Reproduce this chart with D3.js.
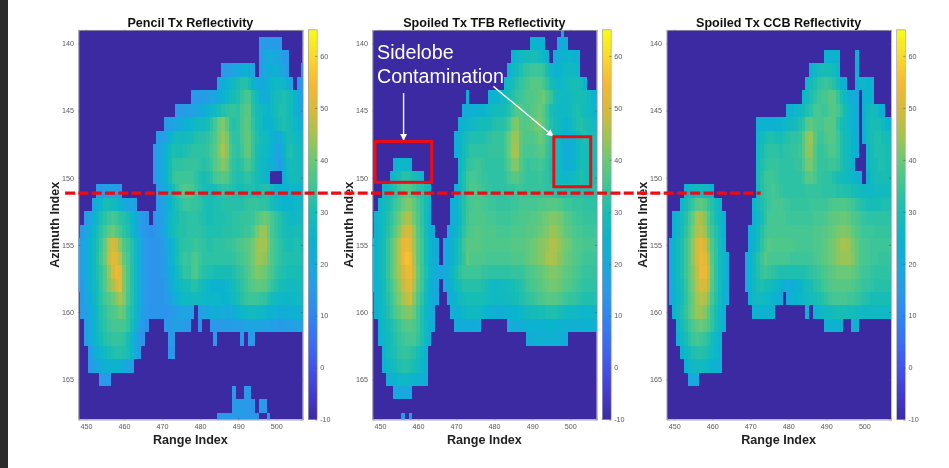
<!DOCTYPE html>
<html>
<head>
<meta charset="utf-8">
<script src="https://cdn.jsdelivr.net/npm/d3@7"></script>
<style>
  html, body { margin: 0; padding: 0; background: #fff; overflow: hidden; }
  svg { display: block; filter: blur(0.3px); }
  text { font-family: "Liberation Sans", Arial, sans-serif; }
  .heat { filter: blur(0.7px); }
</style>
</head>
<body>
<div id="chart"></div>
<script>
// each row: [azimuth index, first range index, reflectivity values...]
// anything not listed is the -10 floor colour
const pencilRows = [
  [140,496,15,16,16,16,16,15],
  [141,496,16,20,21,21,20,19,16,15],
  [142,486,15,16,17,18,20,22,24,22,18],
  [142,496,17,21,22,22,23,22,18,16],
  [142,507,15],
  [143,485,20,22,24,26,28,30,32,32,30,25,21,20,22,25,26,27,27,26,22,18],
  [143,506,14,15],
  [144,478,15,15,16,16,17,18,20,22,24,26,29,30,31,34,36,36,31,27,23,22,22,27,29,30,31,30,28,25,20,15],
  [145,474,15,15,16,17,18,18,20,22,24,26,28,30,32,33,34,34,33,36,38,38,32,29,28,26,25,27,29,31,31,30,28,24,20,18],
  [146,471,16,17,18,20,22,24,25,26,27,28,28,30,33,36,40,42,38,33,32,33,36,39,38,33,30,28,25,24,25,27,30,31,30,28,26,24,22],
  [147,469,16,17,18,24,27,29,28,28,29,30,31,32,32,33,35,37,41,44,41,35,33,33,36,39,39,34,31,29,28,27,25,22,21,26,30,29,28,26,27],
  [148,468,16,17,19,24,28,31,30,30,31,32,33,33,33,33,34,36,38,42,46,42,36,34,33,35,39,39,34,30,28,27,26,24,20,18,24,30,31,29,28,28],
  [149,468,16,17,20,25,29,33,33,33,34,34,34,34,33,32,33,35,38,40,43,40,35,33,32,33,36,36,33,29,27,26,25,23,19,16,22,28,30,29,28,28],
  [150,468,16,17,20,25,30,34,35,35,35,35,35,33,31,30,31,33,36,37,38,37,34,32,31,31,33,33,31,29,27,26,24],
  [150,502,22,27,29,29,28,28],
  [151,453,15,16,17,17,17,16,15],
  [151,469,16,18,22,26,30,33,36,38,37,36,34,32,30,29,29,30,32,33,33,32,31,30,30,31,31,31,30,31,32,31,28,25,24,24,25,26,26,26,26],
  [152,452,18,24,26,30,30,28,27,25,20,20,18,17],
  [152,469,15,17,20,25,29,31,33,35,35,34,34,33,31,30,30,31,31,32,32,32,32,32,32,33,34,34,34,33,33,32,30,28,26,25,25,25,26,27,26],
  [153,450,15,18,24,27,31,33,35,36,35,33,32,30,26,22,18,15,14],
  [153,468,14,15,17,21,26,29,30,32,32,33,33,33,32,31,30,30,31,31,31,32,32,33,33,34,34,34,35,37,39,40,39,36,34,32,30,28,27,27,28,29],
  [154,449,15,18,22,26,30,33,36,39,40,38,36,33,31,27,22,18,15,14,13,14,15,17,22,27,29,31,32,32,33,33,33,33,32,31,31,31,31,32,32,32,33,33,34,35,35,37,41,44,44,40,36,34,32,30,29,29,30,30,29],
  [155,448,15,17,20,24,28,31,35,40,47,50,48,43,37,35,32,27,21,17,15,14,14,14,15,18,22,26,30,32,33,33,34,35,34,33,32,32,33,33,33,34,34,35,36,37,38,39,41,44,45,45,41,37,35,33,31,30,30,31,31,30],
  [156,448,15,17,20,24,28,32,36,41,48,52,52,47,39,36,32,27,21,17,15,14,14,14,15,17,21,26,30,33,35,34,36,37,35,33,33,33,33,33,33,33,33,34,35,36,37,39,41,44,44,43,40,37,35,33,32,31,31,31,31,31],
  [157,448,15,17,20,24,28,31,34,38,44,50,54,52,42,37,32,27,21,17,15,14,14,14,15,17,20,25,28,31,34,33,36,37,34,32,31,31,30,30,30,30,30,31,33,34,36,38,40,42,41,40,38,36,34,32,31,30,30,30,30,30],
  [158,448,15,16,19,23,27,30,34,38,43,46,49,52,42,37,32,27,21,17,15,14,14,14,14,16,19,23,26,28,30,30,32,32,30,28,26,25,24,24,24,26,28,29,31,33,35,37,38,39,39,38,36,34,32,30,29,28,28,28,29,30],
  [159,449,16,18,22,26,30,33,36,38,40,43,45,42,36,32,27,21,17,15,14,14,14,14,15,17,21,24,26,27,27,28,28,28,27,26,26,26,26,25,25,26,28,30,32,34,35,35,35,34,33,31,29,28,27,26,26,26,27,28,28],
  [160,449,15,17,20,24,28,32,34,36,37,38,40,39,34,31,26,20,16,15,14,14,14,14,14,15,16,17,18,18,18,18],
  [160,480,17,18,20,21,22,22,21,20,21,22,24,26,27,28,28,27,27,26,25,24,23,22,22,22,23,24,24,24],
  [161,450,16,20,24,28,31,33,35,36,36,36,36,34,30,24,18,15,13],
  [161,471,15,16,17,17,17,16,15],
  [161,480,14],
  [161,483,15,15,15,16,16,16,17,17,17,18,19,19,19,18,18,18,17,17,16,16,17,17,18,18,18],
  [162,450,16,20,24,27,30,32,33,34,34,34,33,30,26,20,15,14],
  [162,472,15,15],
  [162,484,15],
  [162,491,15],
  [162,493,15,15],
  [163,451,16,20,24,26,28,30,31,32,32,31,30,26,21,16],
  [163,472,14,14],
  [164,451,15,17,20,22,23,24,25,25,24,22,19,17],
  [165,454,15,15,15],
  [166,489,15],
  [166,492,15,15],
  [167,489,15,16,16,15,15,14],
  [167,496,15,15],
  [168,485,15,15,15,15,15,16,16,15,15,15,14],
  [168,498,15]
];

const tfbRows = [
  [139,498,20],
  [140,490,24,25,25,24],
  [140,497,20,22,22],
  [141,485,25,26,28,29,29,30,30,28,26,25],
  [141,496,22,24,24,25,26,24,24],
  [142,484,25,27,29,31,33,34,35,35,35,34,30,26,24,25,26,27,27,27,26],
  [143,483,26,28,30,32,34,35,36,38,38,38,36,33,29,27,26,27,28,29,30,30,28,25],
  [144,473,22],
  [144,479,24,24,25,27,28,30,32,34,35,36,37,37,38,39,40,37,34,30,28,27,27,28,29,30,30,29,27,25,24],
  [145,472,22,22,23,23,24,25,26,27,28,29,29,30,32,35,38,38,36,36,38,39,40,38,34,30,28,27,27,27,28,30,31,30,28,27,26,26],
  [146,471,23,25,26,27,28,29,29,29,30,31,32,32,33,36,41,42,38,37,38,39,40,41,39,35,31,29,27,26,25,26,29,31,32,30,29,28,28],
  [147,470,22,25,28,30,31,31,31,31,32,33,34,34,34,36,40,44,44,39,37,37,37,38,40,39,35,31,29,27,25,23,23,25,28,30,31,30,30,30],
  [148,470,22,25,29,31,33,33,33,33,33,34,34,34,34,36,40,45,45,38,36,36,36,37,38,38,34,31,28,27,25,22,22,24,27,30,30,30,30,30],
  [149,454,24,26,26,26,25],
  [149,471,26,30,33,34,35,35,34,33,33,33,33,33,35,38,42,42,37,35,34,35,35,36,35,33,30,29,27,25,22,23,25,28,30,30,30,30,30],
  [150,453,26,28,30,32,32,31,30,28,26],
  [150,471,27,31,35,36,36,35,34,34,33,33,33,33,34,36,38,38,36,35,34,34,34,35,34,33,31,30,28,26,26,27,28,30,31,30,30,31,31],
  [151,451,26,28,30,32,35,37,38,37,35,33,32,30,27],
  [151,470,22,26,31,35,37,37,36,35,34,34,33,33,33,33,34,34,35,35,34,34,34,34,34,34,33,33,32,31,31,31,31,31,31,31,31,31,32,32],
  [152,450,26,28,30,32,35,37,40,42,42,39,36,33,30,26],
  [152,469,22,24,28,32,35,36,37,37,36,36,35,35,34,34,34,34,35,35,36,36,36,36,36,37,37,38,38,38,37,36,35,35,34,34,34,33,33,33,33],
  [153,449,24,27,29,31,34,37,40,44,46,46,41,37,33,29,24],
  [153,469,21,23,27,32,35,37,37,37,37,36,36,36,35,35,35,35,36,36,37,37,37,38,38,39,40,41,42,42,41,40,38,37,36,35,35,34,34,34,34],
  [154,449,24,26,29,32,35,39,43,48,50,50,44,38,34,30,25,22],
  [154,468,20,22,25,29,33,36,37,38,38,37,37,37,37,36,36,36,36,37,37,37,37,38,38,39,40,41,42,44,44,42,41,39,38,37,36,36,35,35,35,36],
  [155,448,23,25,27,30,34,38,42,47,52,53,52,45,39,35,30,26,23,20],
  [155,467,20,22,24,27,31,35,38,38,38,38,37,37,37,37,37,37,37,37,38,38,38,38,39,40,41,42,43,44,46,46,44,42,41,40,38,37,37,36,36,36,36],
  [156,448,23,25,27,30,34,38,42,47,53,56,55,46,39,35,30,26,23,20],
  [156,467,20,22,24,27,31,34,39,37,37,37,37,36,36,36,36,36,36,36,37,37,37,38,39,40,41,42,43,45,46,45,43,42,40,39,38,37,36,35,35,35,35],
  [157,448,23,25,27,30,34,38,42,46,50,53,54,48,40,35,31,26,23,20,20,21,23,26,30,33,35,35,35,35,35,34,34,33,33,33,33,33,33,34,34,34,35,36,37,38,39,40,41,42,42,41,40,39,38,37,36,35,34,34,34,34],
  [158,448,22,24,26,29,33,36,40,44,48,51,52,46,39,35,30,25,22,20],
  [158,467,20,22,25,28,30,32,32,32,32,32,31,30,28,27,27,28,28,29,30,31,32,33,35,36,37,38,39,40,41,41,40,39,38,37,36,35,34,33,33,33,33],
  [159,449,24,26,29,32,35,39,42,45,48,50,43,37,33,28,24,21,20],
  [159,468,21,23,25,28,29,30,30,30,30,30,29,28,27,27,27,28,28,29,30,31,32,33,34,35,36,37,38,38,38,37,36,35,34,34,33,32,31,31,31,32],
  [160,449,24,26,28,31,34,37,39,41,42,43,40,35,31,26,23,20],
  [160,469,21,23,25,26,27,27,27,27,26,25,24,23,22,22,23,24,25,25,26,27,28,29,29,30,30,31,31,31,30,29,28,27,27,27,26,26,26,26,26],
  [161,450,24,27,29,31,33,35,37,38,38,37,35,31,27,24,21],
  [161,470,22,22,22,22,22,22,21],
  [161,484,21,22,22,23,23,24,24,24,24,24,25,25,25,24,24,24,23,23,23,23,24,24,24,24],
  [162,450,24,26,28,30,32,34,35,36,36,36,34,31,27,24],
  [162,489,22,22,23,23,23,23,23,23,23,22,22],
  [163,451,25,28,30,31,33,34,34,33,32,30,27,25],
  [164,451,24,26,28,29,31,32,32,31,30,28,26,24],
  [165,452,22,24,25,26,27,27,26,25,24,23,22],
  [166,454,20,20,20,20,20],
  [168,456,17],
  [168,458,17]
];

const ccbRows = [
  [141,490,24,25,25,24],
  [141,498,24],
  [142,486,25,27,29,30,30,30,28,26],
  [142,498,24],
  [143,485,27,29,31,33,34,35,34,32,28,25,22],
  [143,498,24,26,26,25,24],
  [144,484,26,28,31,33,35,36,36,38,38,34,30,26,23,21,20],
  [144,500,24,25,24],
  [145,480,23,24,26,27,29,31,33,36,36,35,35,37,38,36,33,29,26,24,20],
  [145,500,24,27,29,28,25,22],
  [146,472,23,24,24,24,24,24,25,26,27,28,29,31,33,38,39,37,36,36,38,38,38,33,30,28,26,24,20],
  [146,500,23,28,30,30,30,27,25,24],
  [147,472,26,28,30,31,31,30,30,31,32,33,33,34,38,43,44,38,35,35,37,38,38,35,31,29,27,25,22],
  [147,500,22,28,30,31,31,30,29,28],
  [148,472,27,30,32,33,33,33,32,33,33,34,34,35,38,43,43,37,34,34,35,37,37,35,31,29,27,25,22],
  [148,501,26,29,31,31,31,30,30],
  [149,472,28,31,33,34,34,34,33,33,33,33,34,34,37,41,41,37,34,34,34,35,35,34,31,29,27,25],
  [149,501,26,29,30,31,31,30,30],
  [150,472,29,32,35,35,35,34,33,33,33,33,33,33,35,38,38,36,34,33,33,33,31,30,29,28,27,26,24,22],
  [150,501,25,28,30,30,30,30,30],
  [151,453,24,26,27,28,28,27,26,24],
  [151,472,28,32,34,35,36,35,34,33,33,33,33,33,33,34,34,34,34,33,33,33,33,32,32,31,31,30,29,28,27,27,27,28,28,28,28,29],
  [152,452,26,29,32,35,38,39,37,34,32,29,26],
  [152,471,26,28,31,33,35,36,36,36,35,35,34,34,34,34,34,35,35,35,35,35,36,37,37,37,37,36,35,33,32,31,30,30,30,30,31,31,31],
  [153,450,24,26,29,32,36,40,46,45,42,37,33,30,27,24],
  [153,471,23,26,30,33,36,36,36,36,36,35,35,35,35,35,35,35,36,36,36,37,38,39,39,40,40,39,37,36,35,34,33,33,33,33,33,33,33],
  [154,450,24,26,30,33,37,42,46,47,44,38,35,32,28,25],
  [154,470,22,25,28,32,35,36,36,36,36,36,36,36,36,36,36,36,36,37,37,38,38,39,40,41,42,42,41,39,37,36,35,35,35,34,34,34,34,34],
  [155,449,22,25,28,31,35,39,44,50,52,49,43,37,33,29,26],
  [155,470,22,25,29,33,36,38,37,37,37,37,37,37,36,36,36,36,36,37,37,38,39,40,41,43,45,45,44,41,39,37,36,36,35,35,35,35,35,35],
  [156,449,22,25,28,31,35,39,44,50,53,52,46,38,33,29,26,22],
  [156,469,21,24,27,32,35,38,36,36,36,36,36,36,35,35,35,35,35,35,36,37,38,39,40,41,43,44,44,44,42,39,37,36,36,35,35,34,34,34,34],
  [157,449,22,25,27,31,35,39,43,48,53,53,48,39,33,29,26,22],
  [157,469,21,24,27,31,34,35,34,33,32,31,31,31,31,31,31,31,32,33,34,35,36,37,38,39,40,40,40,40,39,38,36,35,35,34,33,33,33,33,33],
  [158,449,21,24,27,30,34,38,42,47,50,50,46,38,33,29,25,22],
  [158,469,21,24,27,30,31,30,29,28,26,25,22,21,22,24,25,27,29,30,32,33,35,36,37,38,38,38,38,38,37,36,35,34,34,33,32,32,32,32,32],
  [159,449,21,24,26,29,33,37,41,45,47,46,42,36,32,28,24,21],
  [159,470,24,27,28,28,27,26,25,23,22],
  [159,480,21,23,25,26,27,28,29,30,31,32,33,35,36,36,36,36,35,35,34,33,32,31,30,30,30,30,30,30],
  [160,450,25,28,31,34,38,41,44,44,42,38,34,30,26,23],
  [160,471,23,24,24,24,24,23],
  [160,485,23],
  [160,487,25,26,27,28,28,29,30,30,30,29,29,28,28,27,27,27,27,27,27,27,27],
  [161,451,26,29,32,35,37,39,40,39,37,34,30,27,24],
  [161,490,23,23,24,24,23],
  [161,497,23,23],
  [162,451,24,27,30,33,35,36,35,34,32,29,27,25],
  [163,452,25,27,29,31,32,32,31,30,28,26,24],
  [164,453,24,26,27,28,28,27,26,25,24,23],
  [165,454,20,21,21]
];

const panelTitles = ["Pencil Tx Reflectivity", "Spoiled Tx TFB Reflectivity", "Spoiled Tx CCB Reflectivity"];
const panelRows = [pencilRows, tfbRows, ccbRows];
const panelLefts = [78.4, 372.4, 666.6];

const rangeTicks = [450, 460, 470, 480, 490, 500];
const azimuthTicks = [140, 145, 150, 155, 160, 165];
const colorTicks = [-10, 0, 10, 20, 30, 40, 50, 60];

// parula, picked off the colourbar
const colorStops = [-10, -5, 0, 5, 10, 15, 20, 25, 30, 35, 40, 45, 50, 55, 60, 65];
const colorValues = ["#3c2aa2", "#4339cf", "#4351ec", "#3c6bf6", "#2f85f4", "#2a99ea", "#17a9dd", "#0bb4cd",
  "#17bdb4", "#3cc598", "#68c978", "#a4c350", "#d8b93c", "#f6b932", "#fbd82c", "#f9fb15"];

const width = 949, height = 468;
const plotW = 224.4;
const plotTop = 29.9, plotBottom = 419.6;

const color = d3.scaleLinear().domain(colorStops).range(colorValues);
const yScale = d3.scaleLinear().domain([139, 168]).range([plotTop, plotBottom]);
const cbScale = d3.scaleLinear().domain([-10, 65]).range([plotBottom, plotTop]);

const svg = d3.select("#chart").append("svg")
  .attr("width", width)
  .attr("height", height);

svg.append("rect")
  .attr("width", width).attr("height", height).attr("fill", "#fff");

// dark strip on the left of the slide
svg.append("rect")
  .attr("width", 8).attr("height", height).attr("fill", "#2b2b2b");

const scales = [];

panelRows.forEach((rows, i) => {
  const left = panelLefts[i];
  const xScale = d3.scaleLinear().domain([448, 507]).range([left, left + plotW]);
  scales.push(xScale);

  const g = svg.append("g");

  g.append("clipPath").attr("id", "clip" + i)
    .append("rect")
    .attr("x", left).attr("y", plotTop)
    .attr("width", plotW).attr("height", plotBottom - plotTop);

  const clipped = g.append("g").attr("clip-path", `url(#clip${i})`);

  clipped.append("rect")
    .attr("x", left).attr("y", plotTop)
    .attr("width", plotW).attr("height", plotBottom - plotTop)
    .attr("fill", color(-10));

  const body = clipped.append("g")
    .attr("class", "heat")
    .attr("shape-rendering", "crispEdges");

  // flatten the rows into one cell per value
  const cells = rows.flatMap((r) =>
    r.slice(2).map((v, k) => ({ az: r[0], range: r[1] + k, value: v })));

  body.selectAll("rect.cell")
    .data(cells)
    .enter()
    .append("rect")
      .attr("class", "cell")
      .attr("x", (d) => xScale(d.range - 0.5))
      .attr("y", (d) => yScale(d.az - 0.5))
      .attr("width", (d) => xScale(d.range + 0.5) - xScale(d.range - 0.5))
      .attr("height", (d) => yScale(d.az + 0.5) - yScale(d.az - 0.5))
      .attr("fill", (d) => color(d.value));

  // box and ticks
  const axisBits = [
    [d3.axisBottom(xScale).tickValues(rangeTicks).tickSize(-2), 0, plotBottom, true],
    [d3.axisTop(xScale).tickValues(rangeTicks).tickSize(-2), 0, plotTop, false],
    [d3.axisLeft(yScale).tickValues(azimuthTicks).tickSize(-2), left, 0, true],
    [d3.axisRight(yScale).tickValues(azimuthTicks).tickSize(-2), left + plotW, 0, false]
  ];
  axisBits.forEach(([axis, tx, ty, labels]) => {
    const a = g.append("g")
      .attr("transform", `translate(${tx},${ty})`)
      .call(axis.tickPadding(labels ? 4.5 : 0));
    a.select(".domain").attr("stroke", "#a6a6a6").attr("stroke-width", 0.8);
    a.selectAll(".tick line").attr("stroke", "#555").attr("stroke-width", 0.6);
    if (labels) {
      a.selectAll("text")
        .attr("font-size", 7.2)
        .attr("font-family", '"Liberation Sans", Arial, sans-serif')
        .attr("fill", "#5a5a5a");
    } else {
      a.selectAll("text").remove();
    }
  });

  g.append("text")
    .attr("x", left + plotW / 2 - 0.2)
    .attr("y", 26.6)
    .attr("text-anchor", "middle")
    .attr("font-size", 12.6)
    .attr("font-weight", "bold")
    .attr("fill", "#111")
    .text(panelTitles[i]);

  g.append("text")
    .attr("x", left + plotW / 2 - 0.2)
    .attr("y", 444)
    .attr("text-anchor", "middle")
    .attr("font-size", 12.6)
    .attr("font-weight", "bold")
    .attr("fill", "#222")
    .text("Range Index");

  g.append("text")
    .attr("transform", `translate(${left - 19.6},${(plotTop + plotBottom) / 2}) rotate(-90)`)
    .attr("text-anchor", "middle")
    .attr("font-size", 12.6)
    .attr("font-weight", "bold")
    .attr("fill", "#222")
    .text("Azimuth Index");

  // colourbar
  const cbLeft = left + plotW + 5.6;
  const cb = g.append("g").attr("shape-rendering", "crispEdges");
  cb.selectAll("rect")
    .data(d3.range(-10, 65, 0.25))
    .enter()
    .append("rect")
      .attr("x", cbLeft)
      .attr("y", (d) => cbScale(d + 0.5))
      .attr("width", 8.8)
      .attr("height", cbScale(0) - cbScale(0.5) + 0.5)
      .attr("fill", (d) => color(d + 0.25));
  g.append("rect")
    .attr("x", cbLeft).attr("y", plotTop)
    .attr("width", 8.8).attr("height", plotBottom - plotTop)
    .attr("fill", "none").attr("stroke", "#a6a6a6").attr("stroke-width", 0.7);
  const cbAxis = g.append("g")
    .attr("transform", `translate(${cbLeft + 8.8},0)`)
    .call(d3.axisRight(cbScale).tickValues(colorTicks).tickFormat(String).tickSize(-2).tickPadding(3));
  cbAxis.select(".domain").remove();
  cbAxis.selectAll(".tick line").attr("stroke", "#555").attr("stroke-width", 0.6);
  cbAxis.selectAll("text")
    .attr("font-size", 7.2)
    .attr("font-family", '"Liberation Sans", Arial, sans-serif')
    .attr("fill", "#5a5a5a");
});

// slide annotations, all placed in panel index units
const midX = scales[1];
const boxes = [[448.7, 463.6, 147.3, 150.34], [495.7, 505.4, 146.95, 150.67]];
const arrows = [[456.2, 143.7, 456.2, 147.2], [479.8, 143.2, 495.5, 146.9]];
const sidelobeLines = [["Sidelobe", 59], ["Contamination", 83]];
const dashLine = [444.5, 627.4, 151.14];

svg.append("defs").append("marker")
  .attr("id", "head")
  .attr("viewBox", "0 0 10 10")
  .attr("refX", 9).attr("refY", 5)
  .attr("markerWidth", 7).attr("markerHeight", 7)
  .attr("markerUnits", "userSpaceOnUse")
  .attr("orient", "auto")
  .append("path")
    .attr("d", "M0,0L10,5L0,10Z")
    .attr("fill", "#fff");

svg.selectAll("line.arrow")
  .data(arrows)
  .enter()
  .append("line")
    .attr("class", "arrow")
    .attr("x1", (d) => midX(d[0]))
    .attr("y1", (d) => yScale(d[1]))
    .attr("x2", (d) => midX(d[2]))
    .attr("y2", (d) => yScale(d[3]))
    .attr("stroke", "#fff")
    .attr("stroke-width", 1.4)
    .attr("marker-end", "url(#head)");

svg.selectAll("rect.box")
  .data(boxes)
  .enter()
  .append("rect")
    .attr("class", "box")
    .attr("x", (d) => midX(d[0]))
    .attr("y", (d) => yScale(d[2]))
    .attr("width", (d) => midX(d[1]) - midX(d[0]))
    .attr("height", (d) => yScale(d[3]) - yScale(d[2]))
    .attr("fill", "none")
    .attr("stroke", "#ee0c14")
    .attr("stroke-width", 3);

svg.selectAll("text.note")
  .data(sidelobeLines)
  .enter()
  .append("text")
    .attr("class", "note")
    .attr("x", 377)
    .attr("y", (d) => d[1])
    .attr("font-size", 19.7)
    .attr("fill", "#fff")
    .text((d) => d[0]);

svg.append("line")
  .attr("x1", scales[0](dashLine[0]))
  .attr("x2", scales[0](dashLine[1]))
  .attr("y1", yScale(dashLine[2]))
  .attr("y2", yScale(dashLine[2]))
  .attr("stroke", "#ee0c14")
  .attr("stroke-width", 3.2)
  .attr("stroke-dasharray", "10,3.3");
</script>
</body>
</html>
